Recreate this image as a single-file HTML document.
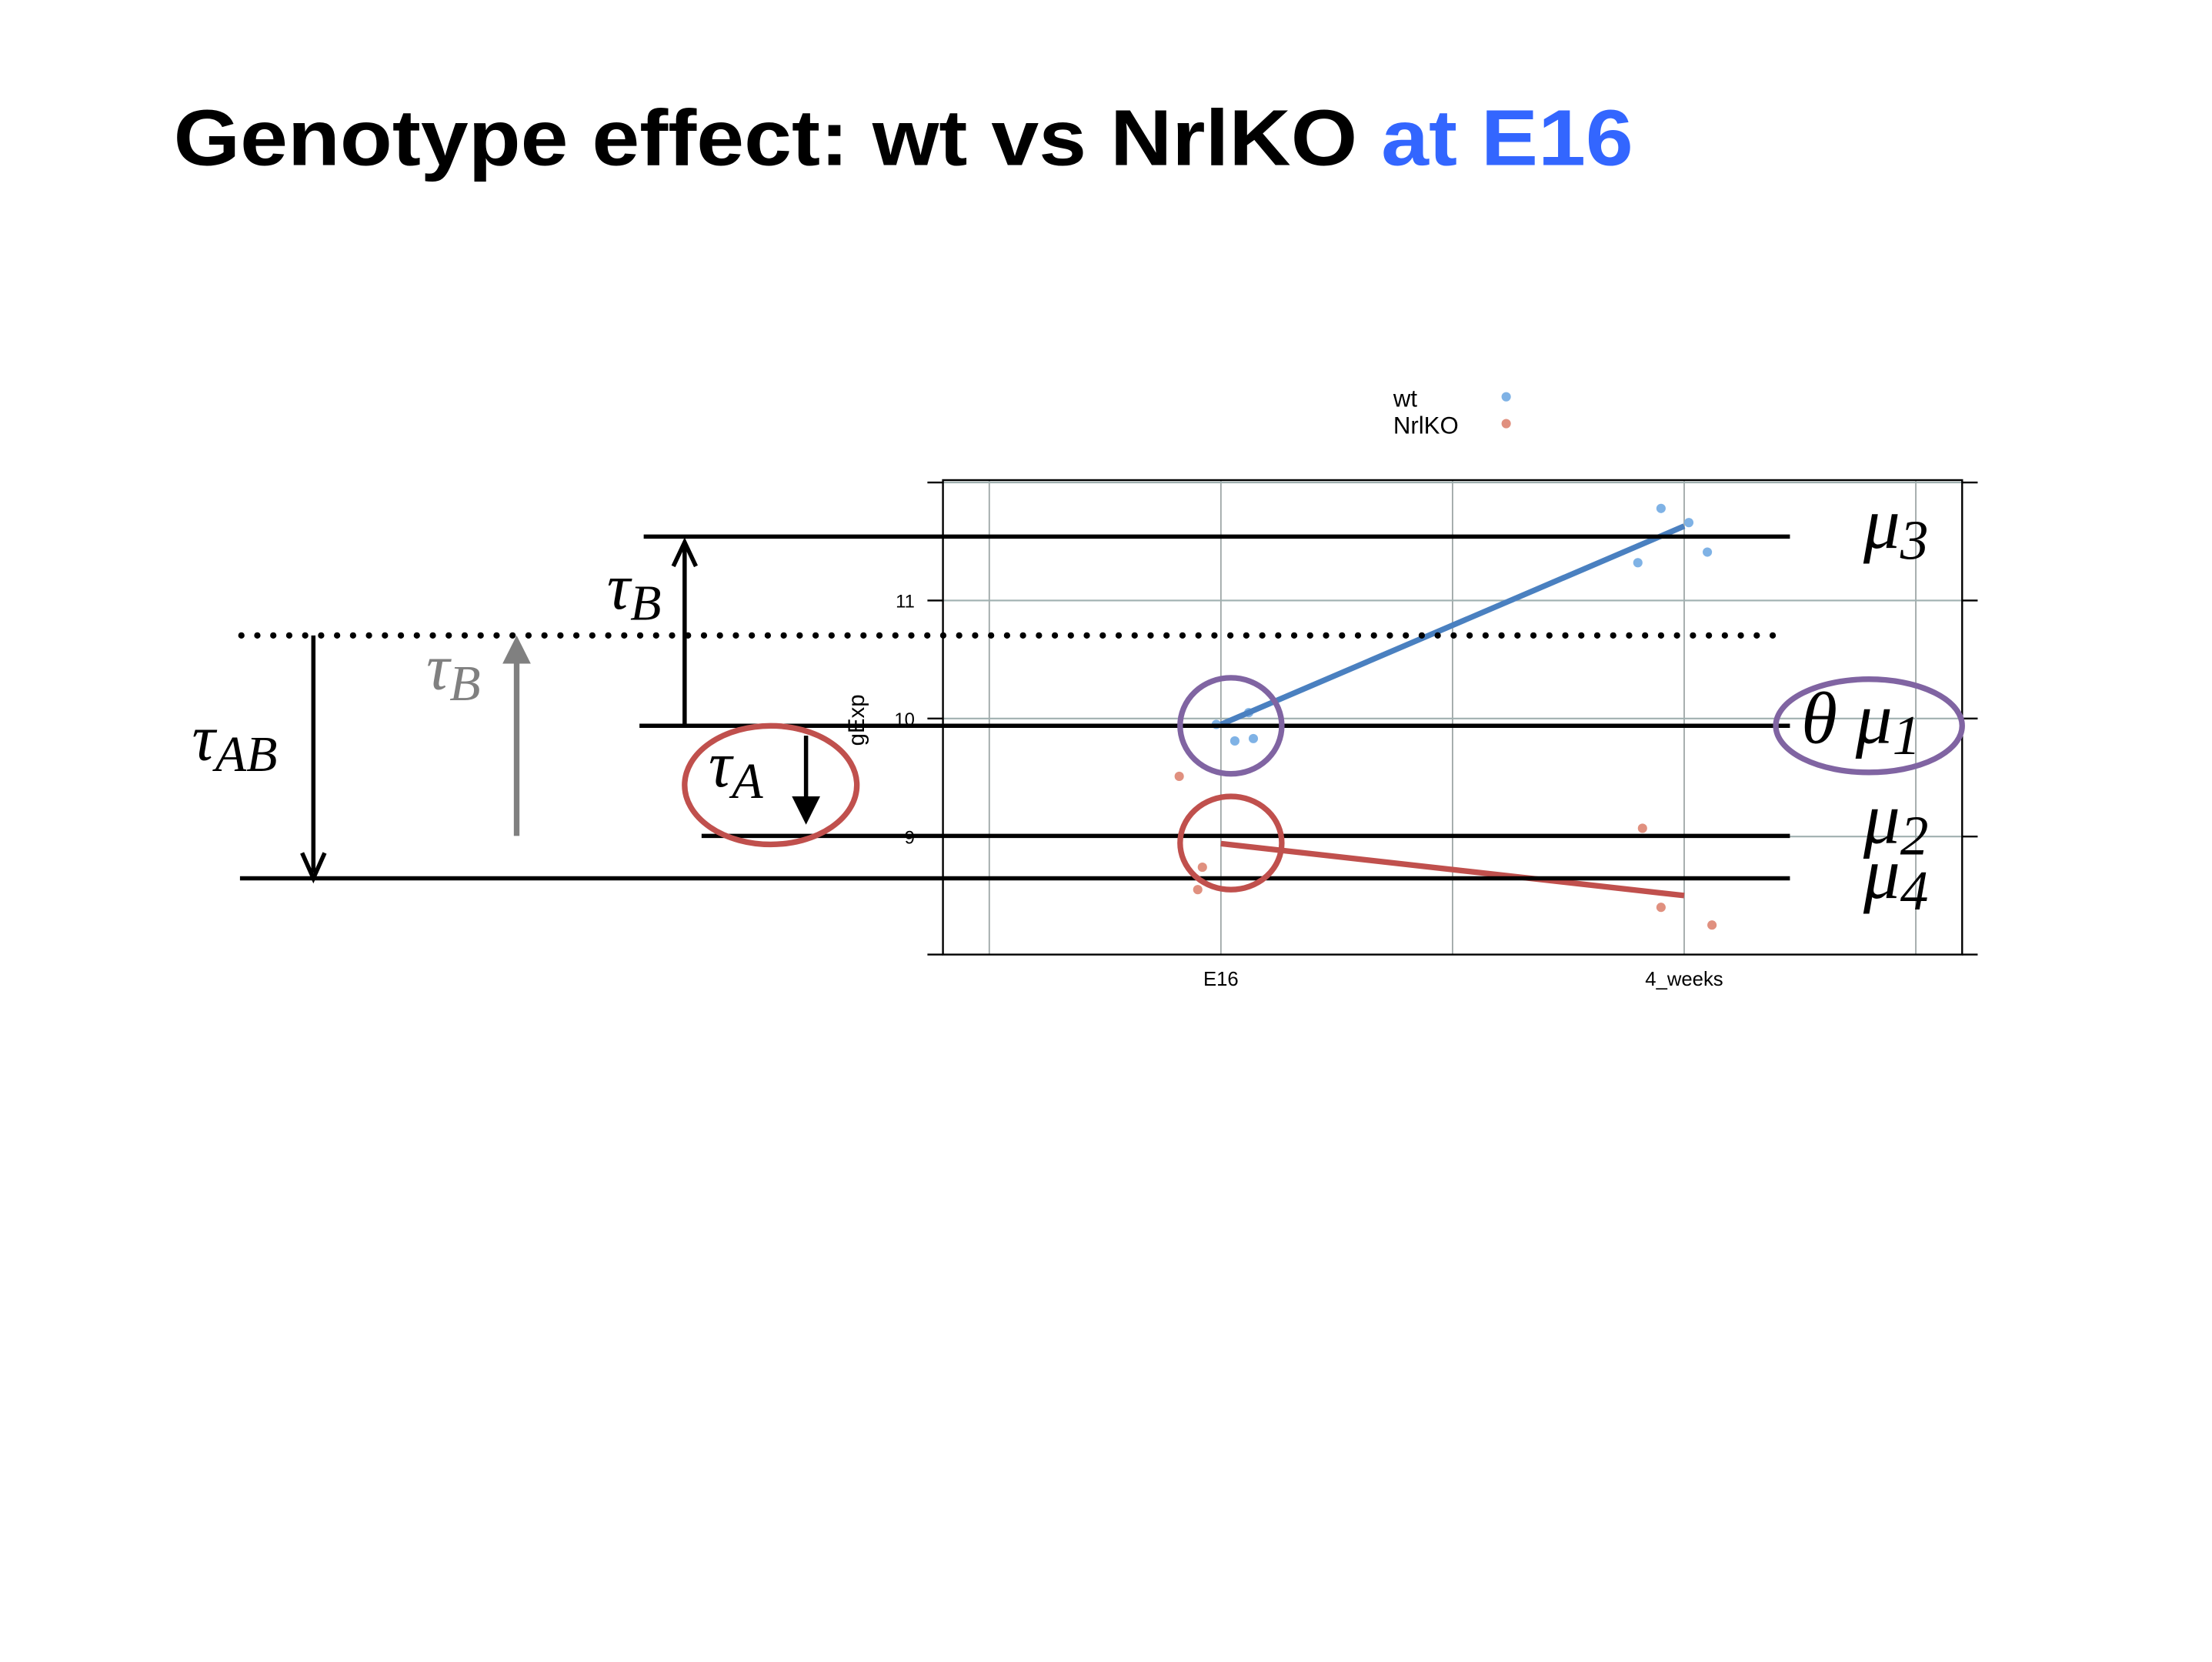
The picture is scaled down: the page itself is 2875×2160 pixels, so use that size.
<!DOCTYPE html>
<html><head><meta charset="utf-8"><style>html,body{margin:0;padding:0;background:#fff}svg{display:block}</style></head>
<body>
<svg id="root" width="2875" height="2160" viewBox="0 0 1567 1177" preserveAspectRatio="none" xmlns="http://www.w3.org/2000/svg">
<rect width="1567" height="1177" fill="#fff"/>
<text x="123" y="117" font-family="Liberation Sans, sans-serif" font-weight="bold" font-size="56" textLength="1034" lengthAdjust="spacingAndGlyphs" fill="#000">Genotype effect: wt vs NrlKO <tspan fill="#3366ff">at E16</tspan></text>
<g id="chart"></g>
<g id="anno">
  <g stroke="#000" stroke-width="3">
    <line x1="456" y1="380" x2="1268" y2="380"/>
    <line x1="453" y1="514" x2="1268" y2="514"/>
    <line x1="497" y1="592" x2="1268" y2="592"/>
    <line x1="170" y1="622" x2="1268" y2="622"/>
  </g>
  <line x1="171" y1="450" x2="1262" y2="450" stroke="#000" stroke-width="4.5" stroke-linecap="round" stroke-dasharray="0 11.3"/>
  <g stroke="#000" stroke-width="3" fill="none">
    <line x1="222" y1="450" x2="222" y2="618"/><polyline points="214,604 222,622 230,604"/></g>
  <g>
    <line x1="366" y1="592" x2="366" y2="466" stroke="#808080" stroke-width="4"/><polygon points="356,470 366,450 376,470" fill="#808080"/></g>
  <g stroke="#000" stroke-width="3" fill="none">
    <line x1="485" y1="514" x2="485" y2="387"/><polyline points="477,401 485,384 493,401"/></g>
  <g>
    <line x1="571" y1="521" x2="571" y2="566" stroke="#000" stroke-width="3"/><polygon points="561,564 571,584 581,564" fill="#000"/></g>
  <g font-family="Liberation Serif, serif" font-style="italic" fill="#000">
    <text x="136" y="538" font-size="46">τ<tspan font-size="36" dy="8">AB</tspan></text>
    <text x="302" y="488" font-size="46" fill="#808080">τ<tspan font-size="36" dy="8">B</tspan></text>
    <text x="430" y="431" font-size="46">τ<tspan font-size="36" dy="8">B</tspan></text>
    <text x="502" y="557" font-size="46">τ<tspan font-size="36" dy="8">A</tspan></text>
    <text x="1320" y="388" font-size="52">μ<tspan font-size="40" dy="8">3</tspan></text>
    <text x="1276" y="526" font-size="52">θ μ<tspan font-size="40" dy="8">1</tspan></text>
    <text x="1320" y="597" font-size="52">μ<tspan font-size="40" dy="8">2</tspan></text>
    <text x="1320" y="636" font-size="52">μ<tspan font-size="40" dy="8">4</tspan></text>
  </g>
  <ellipse cx="546" cy="556" rx="61" ry="42" fill="none" stroke="#c0504d" stroke-width="4"/>
  <ellipse cx="872" cy="514" rx="36" ry="34" fill="none" stroke="#8064a2" stroke-width="4"/>
  <ellipse cx="872" cy="597" rx="36" ry="33" fill="none" stroke="#c0504d" stroke-width="4"/>
  <ellipse cx="1324" cy="514" rx="66" ry="33" fill="none" stroke="#8064a2" stroke-width="4"/>
</g>
<script>
const NS='http://www.w3.org/2000/svg';
const categories=['E16','4_weeks'];
const yTicks=[9,10,11];
const wtLevel=[1,1,1,1,2,2,2,2];
const wtValues=[9.95,9.81,9.83,10.05,11.78,11.66,11.41,11.32];
const wtJitter=[-0.01,0.03,0.07,0.06,-0.05,0.01,0.05,-0.1];
const koLevel=[1,1,1,2,2,2];
const koValues=[9.51,8.74,8.55,9.07,8.40,8.25];
const koJitter=[-0.09,-0.04,-0.05,-0.09,-0.05,0.06];
const wtMeans=[9.95,11.63];
const koMeans=[8.94,8.50];
const L=668,R=1390,T=340,B=676,x0=0.4,x1=2.6,y0=8.0,y1=12.02;
const sx=v=>L+(v-x0)/(x1-x0)*(R-L);
const sy=v=>B-(v-y0)/(y1-y0)*(B-T);
const g=document.getElementById('chart');
function mk(tag,at,parent){const e=document.createElementNS(NS,tag);for(const k in at)e.setAttribute(k,at[k]);(parent||g).appendChild(e);return e;}
[0.5,1,1.5,2,2.5].forEach(v=>{const e=mk('line',{x1:sx(v),x2:sx(v),y1:T,y2:B,stroke:'#a0a8a8','stroke-width':1});

});
[9,10,11,12].forEach(v=>{const e=mk('line',{x1:L,x2:R,y1:sy(v),y2:sy(v),stroke:'#a0b0b0','stroke-width':1.2});

});
const box=mk('rect',{x:L,y:T,width:R-L,height:B-T,fill:'none',stroke:'#000','stroke-width':1.3});


[8,9,10,11,12].forEach(v=>{mk('line',{x1:L-11,x2:L,y1:sy(v),y2:sy(v),stroke:'#000','stroke-width':1.3});mk('line',{x1:R,x2:R+11,y1:sy(v),y2:sy(v),stroke:'#000','stroke-width':1.3});});
yTicks.forEach(v=>{const t=mk('text',{x:L-20,y:sy(v)+5,'text-anchor':'end','font-family':'Liberation Sans, sans-serif','font-size':13});t.textContent=v;

});
categories.forEach((c,i)=>{const t=mk('text',{x:sx(i+1),y:698,'text-anchor':'middle','font-family':'Liberation Sans, sans-serif','font-size':14});t.textContent=c;

});
const yl=mk('text',{x:0,y:0,transform:'translate(612,510) rotate(-90)','text-anchor':'middle','font-family':'Liberation Sans, sans-serif','font-size':16});yl.textContent='gExp';


wtValues.forEach((v,i)=>{const c=mk('circle',{cx:sx(wtLevel[i]+wtJitter[i]),cy:sy(v),r:3.3,fill:'#7fb2e5'});

});
koValues.forEach((v,i)=>{const c=mk('circle',{cx:sx(koLevel[i]+koJitter[i]),cy:sy(v),r:3.3,fill:'#e0907f'});

});
const wl=mk('line',{x1:sx(1),y1:sy(wtMeans[0]),x2:sx(2),y2:sy(wtMeans[1]),stroke:'#4a80c0','stroke-width':4});


const kl=mk('line',{x1:sx(1),y1:sy(koMeans[0]),x2:sx(2),y2:sy(koMeans[1]),stroke:'#c0504d','stroke-width':4});


[['wt','#7fb2e5',288],['NrlKO','#e0907f',307]].forEach(([n,col,y])=>{const t=mk('text',{x:987,y:y,'font-family':'Liberation Sans, sans-serif','font-size':17});t.textContent=n;


const c=mk('circle',{cx:1067,cy:y-7,r:3.3,fill:col});

});
</script>
</svg>
</body></html>
